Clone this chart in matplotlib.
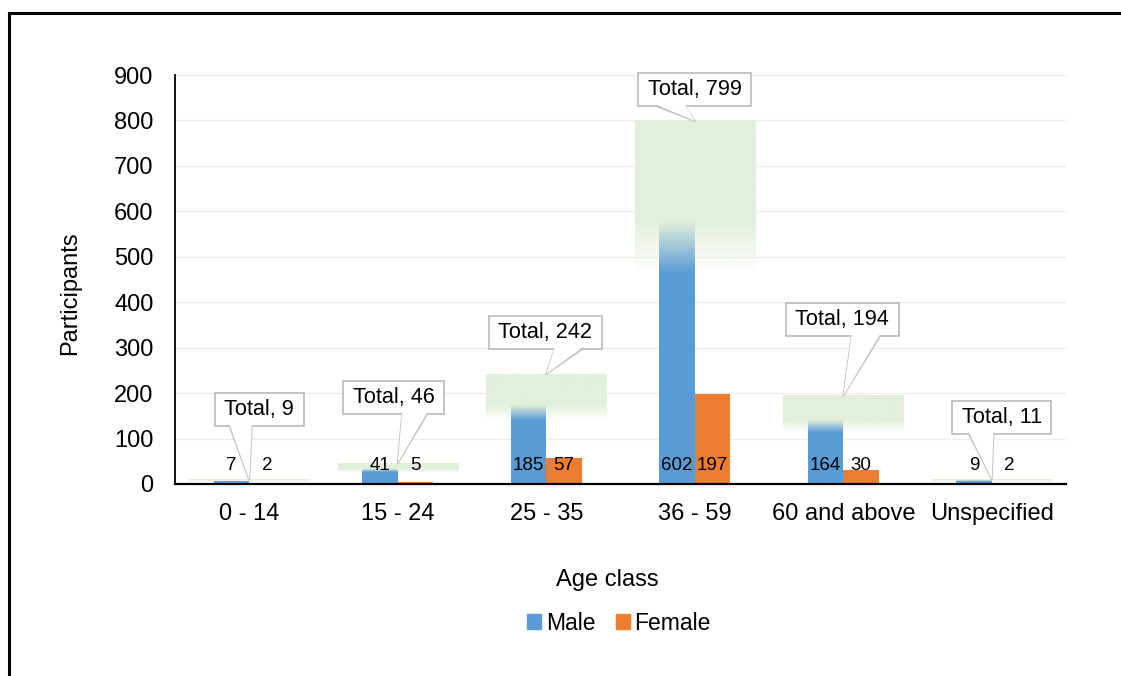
import numpy as np
import matplotlib
matplotlib.use("Agg")
import matplotlib.pyplot as plt
from matplotlib.patches import Rectangle, Polygon, Patch
from matplotlib.lines import Line2D
from matplotlib.transforms import IdentityTransform

# ---- data ----
categories = ["0 - 14", "15 - 24", "25 - 35", "36 - 59", "60 and above", "Unspecified"]
male = [7, 41, 185, 602, 164, 9]
female = [2, 5, 57, 197, 30, 2]
total = [9, 46, 242, 799, 194, 11]
y_ticks = [0, 100, 200, 300, 400, 500, 600, 700, 800, 900]

# callout box offsets relative to tip (pixels, right / up)
callout_offsets = [(10, 70), (-4, 66), (-1, 42), (0, 31), (-1, 76), (10, 62)]

plt.rcParams['font.family'] = ['Liberation Sans', 'DejaVu Sans']

W, H = 1121, 676
DPI = 100
fig = plt.figure(figsize=(W / DPI, H / DPI), dpi=DPI)
ax = fig.add_axes([175 / W, (H - 484) / H, 891 / W, 409 / H])

MALE_C = '#5b9bd5'
FEMALE_C = '#ed7d31'
GREEN = np.array([226, 239, 218]) / 255.0

x = np.arange(len(categories))
bw = 0.239
ax.bar(x - bw / 2, male, width=bw, color=MALE_C, zorder=2)
ax.bar(x + bw / 2, female, width=bw, color=FEMALE_C, zorder=2)

# gradient "Total" bars
tw = 0.81
n = 300
for i, t in enumerate(total):
    frac = (np.arange(n) + 0.5) / n
    alpha = np.clip((frac - 0.58) / (0.72 - 0.58), 0, 1)
    img = np.zeros((n, 2, 4))
    img[..., 0] = GREEN[0]
    img[..., 1] = GREEN[1]
    img[..., 2] = GREEN[2]
    img[..., 3] = alpha[:, None]
    ax.imshow(img, extent=[x[i] - tw / 2, x[i] + tw / 2, 0, t], origin='lower',
              aspect='auto', interpolation='bilinear', zorder=3)

ax.set_xlim(-0.5, len(categories) - 0.5)
ax.set_ylim(0, 900)
ax.set_yticks(y_ticks)
ax.set_xticks(x)
ax.set_xticklabels(categories)
ax.tick_params(axis='both', length=0, labelsize=17)
ax.tick_params(axis='y', pad=15.5)
ax.tick_params(axis='x', pad=14)
ax.grid(axis='y', color='#eeeeee', linewidth=1, zorder=0)
ax.set_axisbelow(True)
for s in ['top', 'right']:
    ax.spines[s].set_visible(False)
ax.spines['left'].set_linewidth(1.3)
ax.spines['bottom'].set_linewidth(1.6)
ax.spines['bottom'].set_zorder(5)

# data labels inside base
for i in range(len(categories)):
    ax.annotate(str(male[i]), (x[i] - bw / 2, 0), xytext=(0, 18), textcoords='offset pixels',
                ha='center', va='center', fontsize=13.5, zorder=6)
    ax.annotate(str(female[i]), (x[i] + bw / 2, 0), xytext=(0, 18), textcoords='offset pixels',
                ha='center', va='center', fontsize=13.5, zorder=6)

# axis titles and legend
fig.text(607 / W, 1 - 580 / H, "Age class", ha='center', va='center', fontsize=17)
fig.text(70 / W, 1 - 293 / H, "Participants", ha='center', va='center', fontsize=17, rotation=90)
handles = [Patch(color=MALE_C, label='Male'), Patch(color=FEMALE_C, label='Female')]
fig.legend(handles=handles, loc='center', bbox_to_anchor=(619 / W, 1 - 623 / H), ncol=2,
           frameon=False, fontsize=16.5, handlelength=0.6, handleheight=0.6,
           handletextpad=0.2, columnspacing=0.9)

# callouts (display coords)
renderer = fig.canvas.get_renderer()
idt = IdentityTransform()
EDGE = '#bfbfbf'
for i, t in enumerate(total):
    tipx, tipy = ax.transData.transform((x[i], t))
    dx, dy = callout_offsets[i]
    cx, cy = tipx + dx, tipy + dy
    txt = fig.text(cx, cy, f"Total, {t}", transform=idt, ha='center', va='center',
                   fontsize=15.6, zorder=12)
    ext = txt.get_window_extent(renderer)
    bwid = ext.width + 19
    bh = 33
    x0, y0 = cx - bwid / 2, cy - bh / 2
    fig.patches.append(Rectangle((x0, y0), bwid, bh, transform=idt, facecolor='white',
                                 edgecolor=EDGE, linewidth=1.3, zorder=10))
    if tipx > cx:
        b1, b2 = x0 + bwid * 7 / 12, x0 + bwid * 10 / 12
    else:
        b1, b2 = x0 + bwid * 2 / 12, x0 + bwid * 5 / 12
    fig.patches.append(Polygon([(b1, y0 + 1.5), (tipx, tipy), (b2, y0 + 1.5)], closed=True,
                               transform=idt, facecolor='white', edgecolor='none', zorder=11))
    fig.lines.append(Line2D([b1, tipx, b2], [y0, tipy, y0], transform=idt, color=EDGE,
                            linewidth=1.3, zorder=11))

# outer frame (top and left edges visible)
fig.lines.append(Line2D([9, W], [H - 13, H - 13], transform=idt, color='black', linewidth=2.2))
fig.lines.append(Line2D([9, 9], [0, H - 13], transform=idt, color='black', linewidth=2.2))

fig.savefig('out.png', dpi=DPI)
